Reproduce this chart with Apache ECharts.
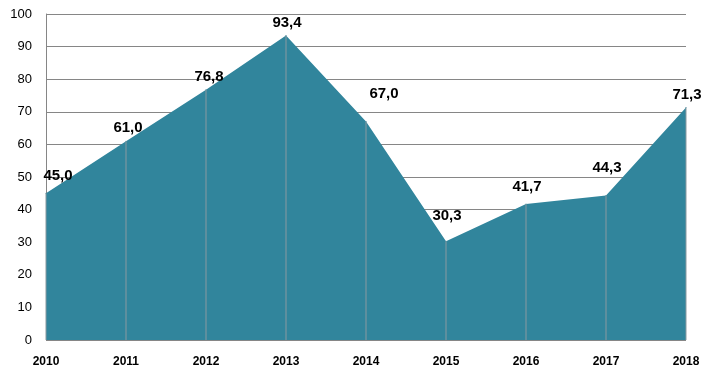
<!DOCTYPE html>
<html><head><meta charset="utf-8">
<script src="https://cdn.jsdelivr.net/npm/echarts@6/dist/echarts.min.js"></script>
<style>html,body{margin:0;padding:0;background:#fff}#c{width:715px;height:375px}</style>
</head><body><div id="c"></div>
<script>
var years = ['2010','2011','2012','2013','2014','2015','2016','2017','2018'];
var values = [45.0, 61.0, 76.8, 93.4, 67.0, 30.3, 41.7, 44.3, 71.3];
var yTicks = [0,10,20,30,40,50,60,70,80,90,100];

// label styling (offsets in px), separate from data
var labelOffsets = [[12,-4],[2,0],[3,0],[1,0],[18,-15],[1,-12],[1,-4],[1,-15],[1,0]];

var chart = echarts.init(document.getElementById('c'), null, {renderer:'canvas'});
var fontFam = '"Liberation Sans", Arial, sans-serif';
chart.setOption({
  animation:false,
  grid:{left:46, right:29, top:14, bottom:35},
  xAxis:{type:'category', data:years, boundaryGap:false,
    axisLine:{show:false}, axisTick:{show:false},
    axisLabel:{color:'#000', fontWeight:'bold', fontSize:12, fontFamily:fontFam, margin:16}},
  yAxis:{type:'value', min:yTicks[0], max:yTicks[yTicks.length-1], interval:10,
    axisLine:{show:true, lineStyle:{color:'#868686'}}, axisTick:{show:false},
    splitLine:{lineStyle:{color:'#868686', width:1}},
    axisLabel:{color:'#000', fontSize:13, fontFamily:fontFam, margin:14}},
  series:[
    {type:'line', data:values.map(function(v,i){
        return {value:v, label:{offset:labelOffsets[i]}};
      }), symbol:'circle', symbolSize:1, showSymbol:true, z:2,
      itemStyle:{color:'#31859c'},
      lineStyle:{width:0}, areaStyle:{color:'#31859c', opacity:1},
      label:{show:true, position:'top', distance:5, color:'#000', fontWeight:'bold', fontSize:15, fontFamily:fontFam,
        formatter:function(p){return p.value.toFixed(1).replace('.',',');}}},
    {type:'bar', data:values, barWidth:1, z:3, silent:true,
      itemStyle:{color:'#8a9aa0'}, label:{show:false}}
  ]
});
</script></body></html>
